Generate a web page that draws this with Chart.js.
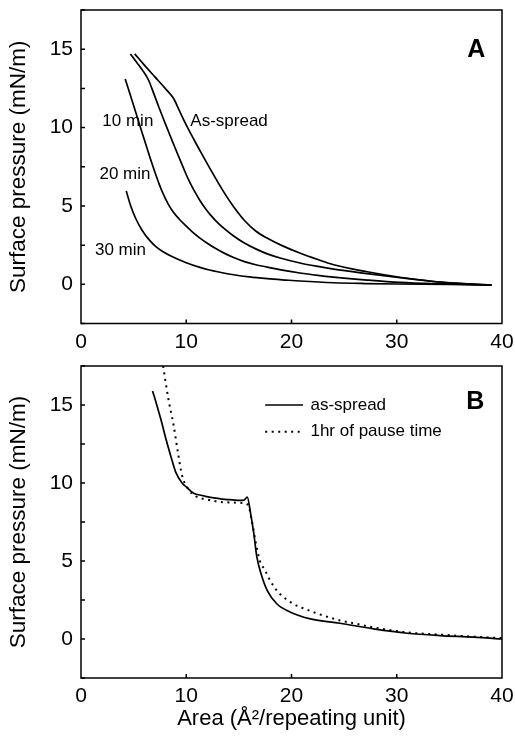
<!DOCTYPE html>
<html>
<head>
<meta charset="utf-8">
<script src="https://cdn.jsdelivr.net/npm/chart.js@4.4.0/dist/chart.umd.min.js"></script>
<style>
  html, body { margin: 0; padding: 0; background: #fff; }
  #wrap { position: relative; width: 515px; height: 747px; }
  canvas { position: absolute; left: 0; }
</style>
</head>
<body>
<div id="wrap">
  <canvas id="chartA" width="515" height="355" style="top:0px"></canvas>
  <canvas id="chartB" width="515" height="392" style="top:355px"></canvas>
</div>
<script>
// panel A: compression isotherms after different pause times
const asSpreadAx = [5.1, 6.0, 7.0, 8.0, 8.8, 9.3, 9.9, 10.7, 11.5, 12.3, 13.07, 13.8, 14.5, 15.6, 16.6, 17.67, 19.0, 20.84, 22.5, 24.0, 27.2, 30.3, 33.5, 36.7, 39.0];
const asSpreadAy = [14.7, 14.0, 13.25, 12.5, 11.85, 11.15, 10.3, 9.27, 8.29, 7.33, 6.44, 5.64, 4.95, 4.02, 3.4, 2.95, 2.5, 1.98, 1.58, 1.25, 0.8, 0.45, 0.18, 0.02, -0.05];
const min10x = [4.7, 5.3, 5.9, 6.4, 6.9, 7.4, 8.0, 8.5, 9.0, 9.5, 9.9, 10.4, 10.9, 11.33, 11.8, 12.4, 13.0, 13.7, 14.5, 15.6, 16.6, 17.7, 19.0, 20.8, 22.5, 24.0, 27.2, 30.3, 33.5, 36.7, 39.0];
const min10y = [14.7, 14.15, 13.6, 13.05, 12.2, 11.3, 10.27, 9.43, 8.6, 7.8, 7.15, 6.42, 5.8, 5.32, 4.86, 4.35, 3.92, 3.5, 3.08, 2.6, 2.26, 1.94, 1.66, 1.36, 1.14, 0.97, 0.68, 0.42, 0.18, 0.03, -0.05];
const min20x = [4.2, 5.0, 5.8, 6.6, 7.0, 7.4, 7.8, 8.3, 8.8, 9.3, 9.9, 10.6, 11.3, 12.0, 12.8, 13.6, 14.5, 15.6, 16.6, 17.7, 19.0, 20.8, 22.5, 24.0, 27.2, 30.3, 33.5, 36.7, 39.0];
const min20y = [13.1, 11.4, 9.68, 8.0, 7.2, 6.44, 5.78, 5.1, 4.58, 4.18, 3.77, 3.33, 2.95, 2.62, 2.28, 1.99, 1.71, 1.43, 1.25, 1.1, 0.92, 0.72, 0.57, 0.46, 0.27, 0.12, 0.04, 0.0, -0.05];
const min30x = [4.3, 4.7, 5.2, 5.8, 6.5, 7.2, 8.0, 9.0, 10.0, 11.3, 12.1, 13.2, 14.5, 16.0, 17.7, 19.5, 20.8, 24.0, 27.0, 30.0, 35.0, 39.0];
const min30y = [5.95, 5.05, 4.2, 3.45, 2.82, 2.36, 2.0, 1.66, 1.38, 1.08, 0.93, 0.77, 0.61, 0.47, 0.36, 0.27, 0.21, 0.1, 0.05, 0.02, 0.0, -0.05];

// panel B: as-spread vs 1 hr pause
const solidBx = [6.8, 7.2, 7.7, 8.0, 8.5, 9.0, 9.6, 10.0, 10.7, 11.5, 12.3, 13.9, 15.1, 15.5, 15.8, 16.1, 16.4, 16.7, 17.1, 17.7, 18.6, 19.9, 21.8, 24.6, 27.8, 31.0, 34.1, 37.3, 40.0];
const solidBy = [15.9, 15.0, 13.8, 13.0, 11.8, 10.7, 10.0, 9.75, 9.35, 9.2, 9.08, 8.94, 8.88, 8.9, 9.1, 8.1, 6.85, 5.3, 4.2, 3.1, 2.26, 1.72, 1.29, 1.01, 0.65, 0.37, 0.22, 0.12, 0.0];
const pauseBx = [7.8, 8.3, 8.8, 9.2, 9.6, 10.2, 10.9, 12.0, 13.5, 15.4, 15.9, 16.25, 16.6, 17.0, 17.5, 17.8, 18.6, 19.9, 21.5, 23.0, 24.6, 26.2, 27.8, 31.0, 34.1, 37.3, 40.0];
const pauseBy = [17.5, 15.4, 13.7, 12.0, 10.5, 9.6, 9.15, 8.94, 8.77, 8.72, 8.56, 7.5, 6.2, 5.0, 4.4, 3.96, 3.11, 2.36, 1.87, 1.51, 1.19, 0.97, 0.74, 0.42, 0.28, 0.15, 0.06];

const yTickLabels = [0, 5, 10, 15];
const xTickLabels = [0, 10, 20, 30, 40];

const notesA = ['10 min', '20 min', '30 min', 'As-spread'];
const notesAx = [4.45, 4.18, 3.75, 14.07];
const notesAy = [10.37, 7.02, 2.17, 10.37];

const FONT = '"Liberation Sans", Arial, sans-serif';
Chart.defaults.color = '#000';
Chart.defaults.font.family = FONT;

function pts(xs, ys) {
  return xs.map((x, i) => ({ x: x, y: ys[i] }));
}

function line(label, xs, ys, dash) {
  return {
    label: label,
    data: pts(xs, ys),
    borderColor: '#000',
    borderWidth: dash ? 2 : 1.7,
    borderDash: dash || [],
    pointRadius: 0,
    fill: false,
    cubicInterpolationMode: 'monotone'
  };
}

// box round the plot plus short inward ticks
const frameTicks = {
  id: 'frameTicks',
  afterDraw(chart) {
    const { ctx, chartArea: a, scales: { x, y } } = chart;
    ctx.save();
    ctx.strokeStyle = '#000';
    ctx.lineWidth = 1.5;
    ctx.strokeRect(a.left, a.top, a.right - a.left, a.bottom - a.top);
    ctx.beginPath();
    y.ticks.forEach(t => {
      const py = y.getPixelForValue(t.value);
      ctx.moveTo(a.left, py);
      ctx.lineTo(a.left + 4, py);
    });
    x.ticks.forEach(t => {
      if (t.value <= x.min || t.value >= x.max) return;
      const px = x.getPixelForValue(t.value);
      ctx.moveTo(px, a.bottom);
      ctx.lineTo(px, a.bottom - 4);
    });
    ctx.stroke();
    ctx.restore();
  }
};

// curve labels, panel letter and the small legend, all placed in data units
const notes = {
  id: 'notes',
  afterDatasetsDraw(chart, args, opts) {
    const { ctx, scales: { x, y } } = chart;
    ctx.save();
    ctx.fillStyle = '#000';
    ctx.textBaseline = 'middle';
    ctx.textAlign = 'center';
    ctx.font = '17px ' + FONT;
    (opts.texts || []).forEach((t, i) => {
      ctx.fillText(t, x.getPixelForValue(opts.xs[i]), y.getPixelForValue(opts.ys[i]));
    });
    ctx.font = 'bold 25px ' + FONT;
    ctx.fillText(opts.letter, x.getPixelForValue(opts.letterAt[0]), y.getPixelForValue(opts.letterAt[1]));
    if (opts.legend) {
      const [x0, x1, xt, y0, dy] = opts.legend;
      ctx.textAlign = 'left';
      ctx.font = '17px ' + FONT;
      chart.data.datasets.forEach((ds, i) => {
        const py = y.getPixelForValue(y0) + i * dy;
        ctx.beginPath();
        ctx.strokeStyle = '#000';
        ctx.lineWidth = ds.borderWidth;
        ctx.setLineDash(ds.borderDash);
        ctx.moveTo(x.getPixelForValue(x0), py);
        ctx.lineTo(x.getPixelForValue(x1), py);
        ctx.stroke();
        ctx.fillText(ds.label, x.getPixelForValue(xt), py);
      });
    }
    ctx.restore();
  }
};

function panel(id, datasets, axisHeight, padTop, noteOpts, showXTitle) {
  return new Chart(document.getElementById(id), {
    type: 'line',
    data: { datasets: datasets },
    options: {
      responsive: false,
      animation: false,
      devicePixelRatio: 1,
      layout: { padding: { top: padTop, right: 13, left: 0, bottom: 0 } },
      plugins: { legend: { display: false }, tooltip: { enabled: false }, notes: noteOpts },
      scales: {
        x: {
          type: 'linear', min: 0, max: 40,
          grid: { display: false, drawTicks: false, tickLength: 0 },
          border: { display: false },
          ticks: {
            stepSize: 10, padding: 6, font: { size: 21 },
            callback: v => xTickLabels.includes(v) ? String(v) : ''
          },
          title: {
            display: showXTitle, text: 'Area (Å²/repeating unit)',
            font: { size: 22 }, padding: { top: 0, bottom: 15 }
          },
          afterFit: s => { s.height = axisHeight; s.paddingLeft = 0; s.paddingRight = 0; }
        },
        y: {
          min: -2.5, max: 17.5,
          grid: { display: false, drawTicks: false, tickLength: 0 },
          border: { display: false },
          ticks: {
            stepSize: 2.5, padding: 8, font: { size: 21 },
            callback: v => yTickLabels.includes(v) ? String(v) : ''
          },
          title: {
            display: true, text: 'Surface pressure (mN/m)',
            font: { size: 22.5 }, padding: { top: 5, bottom: 0 }
          },
          afterFit: s => { s.width = 81; s.paddingTop = 0; s.paddingBottom = 0; }
        }
      }
    },
    plugins: [frameTicks, notes]
  });
}

panel('chartA', [
  line('As-spread', asSpreadAx, asSpreadAy),
  line('10 min', min10x, min10y),
  line('20 min', min20x, min20y),
  line('30 min', min30x, min30y)
], 31.5, 10, {
  texts: notesA, xs: notesAx, ys: notesAy,
  letter: 'A', letterAt: [37.55, 14.93]
}, false);

panel('chartB', [
  line('as-spread', solidBx, solidBy),
  line('1hr of pause time', pauseBx, pauseBy, [2, 4.5])
], 69, 11, {
  letter: 'B', letterAt: [37.46, 15.21],
  legend: [17.5, 21.1, 21.8, 15.0, 26.7]
}, true);
</script>
</body>
</html>
